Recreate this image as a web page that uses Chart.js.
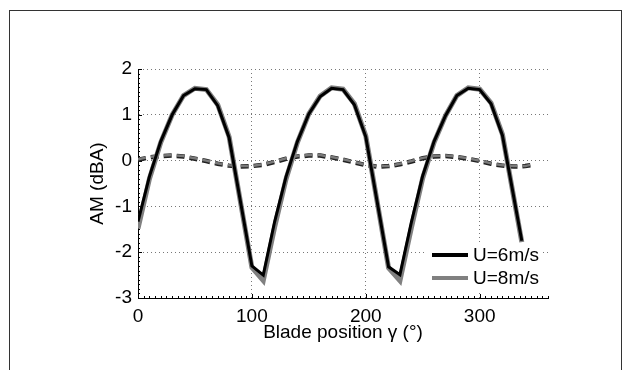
<!DOCTYPE html>
<html>
<head>
<meta charset="utf-8">
<script src="https://cdn.jsdelivr.net/npm/chart.js@4.4.1/dist/chart.umd.min.js"></script>
<style>
  html, body { margin: 0; padding: 0; background: #fff; }
  #wrap { position: relative; width: 630px; height: 370px; overflow: hidden; }
  #frame { position: absolute; left: 9px; top: 10px; width: 613px; height: 380px;
           border: 1px solid #333; box-sizing: border-box; }
  canvas { position: absolute; left: 0; top: 0; }
</style>
</head>
<body>
<div id="wrap">
  <div id="frame"></div>
  <canvas id="amChart" width="630" height="370"></canvas>
</div>
<script>
// blade position (deg) for the solid curves
var solidAngles = [0, 10, 20, 30, 40, 50, 60, 70, 80, 100, 110,
                   120, 130, 140, 150, 160, 170, 180, 190, 200, 220, 230,
                   240, 250, 260, 270, 280, 290, 300, 310, 320, 337];
var am6 = [-1.33, -0.35, 0.42, 1.00, 1.42, 1.57, 1.55, 1.20, 0.50, -2.30, -2.50,
           -1.33, -0.35, 0.42, 1.02, 1.40, 1.58, 1.55, 1.22, 0.52, -2.32, -2.49,
           -1.35, -0.33, 0.42, 0.98, 1.42, 1.58, 1.55, 1.24, 0.55, -1.75];
var am8 = [-1.48, -0.40, 0.40, 1.00, 1.42, 1.58, 1.55, 1.22, 0.52, -2.33, -2.62,
           -1.45, -0.40, 0.40, 1.02, 1.41, 1.59, 1.56, 1.24, 0.54, -2.34, -2.62,
           -1.47, -0.38, 0.40, 0.98, 1.42, 1.59, 1.56, 1.26, 0.57, -1.78];

// dashed curves
var dashAngles = [0, 10, 20, 30, 40, 50, 60, 70, 80, 90, 100, 110,
                  120, 130, 140, 150, 160, 170, 180, 190, 200, 210, 220, 230,
                  240, 250, 260, 270, 280, 290, 300, 310, 320, 330, 340, 345];
var dash6 = [0.02, 0.07, 0.10, 0.11, 0.09, 0.04, -0.01, -0.07, -0.11, -0.13, -0.12, -0.09,
             -0.03, 0.04, 0.09, 0.11, 0.11, 0.07, 0.02, -0.04, -0.10, -0.13, -0.12, -0.08,
             -0.02, 0.05, 0.09, 0.10, 0.08, 0.04, -0.01, -0.07, -0.11, -0.13, -0.12, -0.10];
var dash8 = [0.03, 0.08, 0.11, 0.12, 0.10, 0.05, 0.00, -0.06, -0.10, -0.12, -0.12, -0.08,
             -0.02, 0.05, 0.10, 0.12, 0.12, 0.08, 0.03, -0.03, -0.09, -0.12, -0.12, -0.07,
             -0.01, 0.06, 0.10, 0.11, 0.09, 0.05, 0.00, -0.06, -0.10, -0.12, -0.12, -0.09];

var xTicks = [0, 100, 200, 300];
var yTicks = [-3, -2, -1, 0, 1, 2];
var legendLabels = ['U=6m/s', 'U=8m/s'];

function pts(xs, ys) {
  return xs.map(function (x, i) { return { x: x, y: ys[i] }; });
}

var FONT = { family: "'Liberation Sans', Arial, sans-serif", size: 19 };
Chart.defaults.font.family = FONT.family;
Chart.defaults.font.size = FONT.size;
Chart.defaults.color = '#000';

var minorTicks = {
  id: 'minorTicks',
  beforeDatasetsDraw: function (chart) {
    var ctx = chart.ctx, a = chart.chartArea, x = chart.scales.x, y = chart.scales.y;
    ctx.save();
    ctx.strokeStyle = '#000';
    ctx.lineWidth = 1;
    ctx.beginPath();
    for (var v = 0; v <= 360; v += 5) {
      var px = Math.round(x.getPixelForValue(v)) + 0.5;
      var len = v % 100 === 0 ? 4 : 2;
      ctx.moveTo(px, a.bottom);
      ctx.lineTo(px, a.bottom - len);
    }
    for (var i = -30; i <= 20; i++) {
      var py = Math.round(y.getPixelForValue(i / 10)) + 0.5;
      var l = i % 10 === 0 ? 4 : 2;
      ctx.moveTo(a.left, py);
      ctx.lineTo(a.left + l, py);
    }
    ctx.stroke();
    ctx.restore();
  }
};

var boxLegend = {
  id: 'boxLegend',
  afterDatasetsDraw: function (chart) {
    var ctx = chart.ctx, a = chart.chartArea;
    var ds = chart.data.datasets;
    ctx.save();
    ctx.fillStyle = '#fff';
    ctx.fillRect(a.right - 124, a.bottom - 54, 119, 47);
    ctx.font = FONT.size + 'px ' + FONT.family;
    ctx.textBaseline = 'middle';
    for (var i = 0; i < 2; i++) {
      var yy = a.bottom - 43 + i * 23;
      ctx.strokeStyle = ds[i].borderColor;
      ctx.lineWidth = 4;
      ctx.beginPath();
      ctx.moveTo(a.right - 116, yy);
      ctx.lineTo(a.right - 80, yy);
      ctx.stroke();
      ctx.fillStyle = '#000';
      ctx.fillText(ds[i].label, a.right - 75, yy + 1);
    }
    ctx.restore();
  }
};

new Chart(document.getElementById('amChart'), {
  type: 'line',
  data: {
    datasets: [
      { label: legendLabels[0], data: pts(solidAngles, am6), borderColor: '#000', borderWidth: 3 },
      { label: legendLabels[1], data: pts(solidAngles, am8), borderColor: '#808080', borderWidth: 5 },
      { label: 'dash8', data: pts(dashAngles, dash8), borderColor: '#7a7a7a', borderWidth: 2.5, borderDash: [8, 5] },
      { label: 'dash6', data: pts(dashAngles, dash6), borderColor: '#222', borderWidth: 4.5, borderDash: [8, 5] }
    ]
  },
  options: {
    responsive: false,
    animation: false,
    elements: { point: { radius: 0 }, line: { tension: 0, fill: false, borderJoinStyle: 'miter' } },
    layout: { padding: { left: 0, top: 69, right: 82, bottom: 0 } },
    plugins: { legend: { display: false }, tooltip: { enabled: false } },
    scales: {
      x: {
        type: 'linear',
        min: 0, max: 360,
        afterFit: function (s) { s.height = 72; },
        afterBuildTicks: function (s) { s.ticks = xTicks.map(function (v) { return { value: v }; }); },
        ticks: { padding: 7, color: '#000', includeBounds: false },
        grid: { color: '#777', lineWidth: 1, drawTicks: false },
        border: { display: true, color: '#000', width: 1, dash: [1, 3] },
        title: { display: true, text: 'Blade position γ (°)', color: '#000', padding: { top: 0, bottom: 26 } }
      },
      y: {
        min: -3, max: 2,
        afterFit: function (s) { s.width = 138; },
        afterBuildTicks: function (s) { s.ticks = yTicks.map(function (v) { return { value: v }; }); },
        ticks: { padding: 6, color: '#000' },
        grid: { color: '#777', lineWidth: 1, drawTicks: false },
        border: { display: true, color: '#000', width: 1, dash: [1, 3] },
        title: { display: true, text: 'AM (dBA)', color: '#000', padding: { top: 86, bottom: 0 } }
      }
    }
  },
  plugins: [minorTicks, boxLegend]
});
</script>
</body>
</html>
